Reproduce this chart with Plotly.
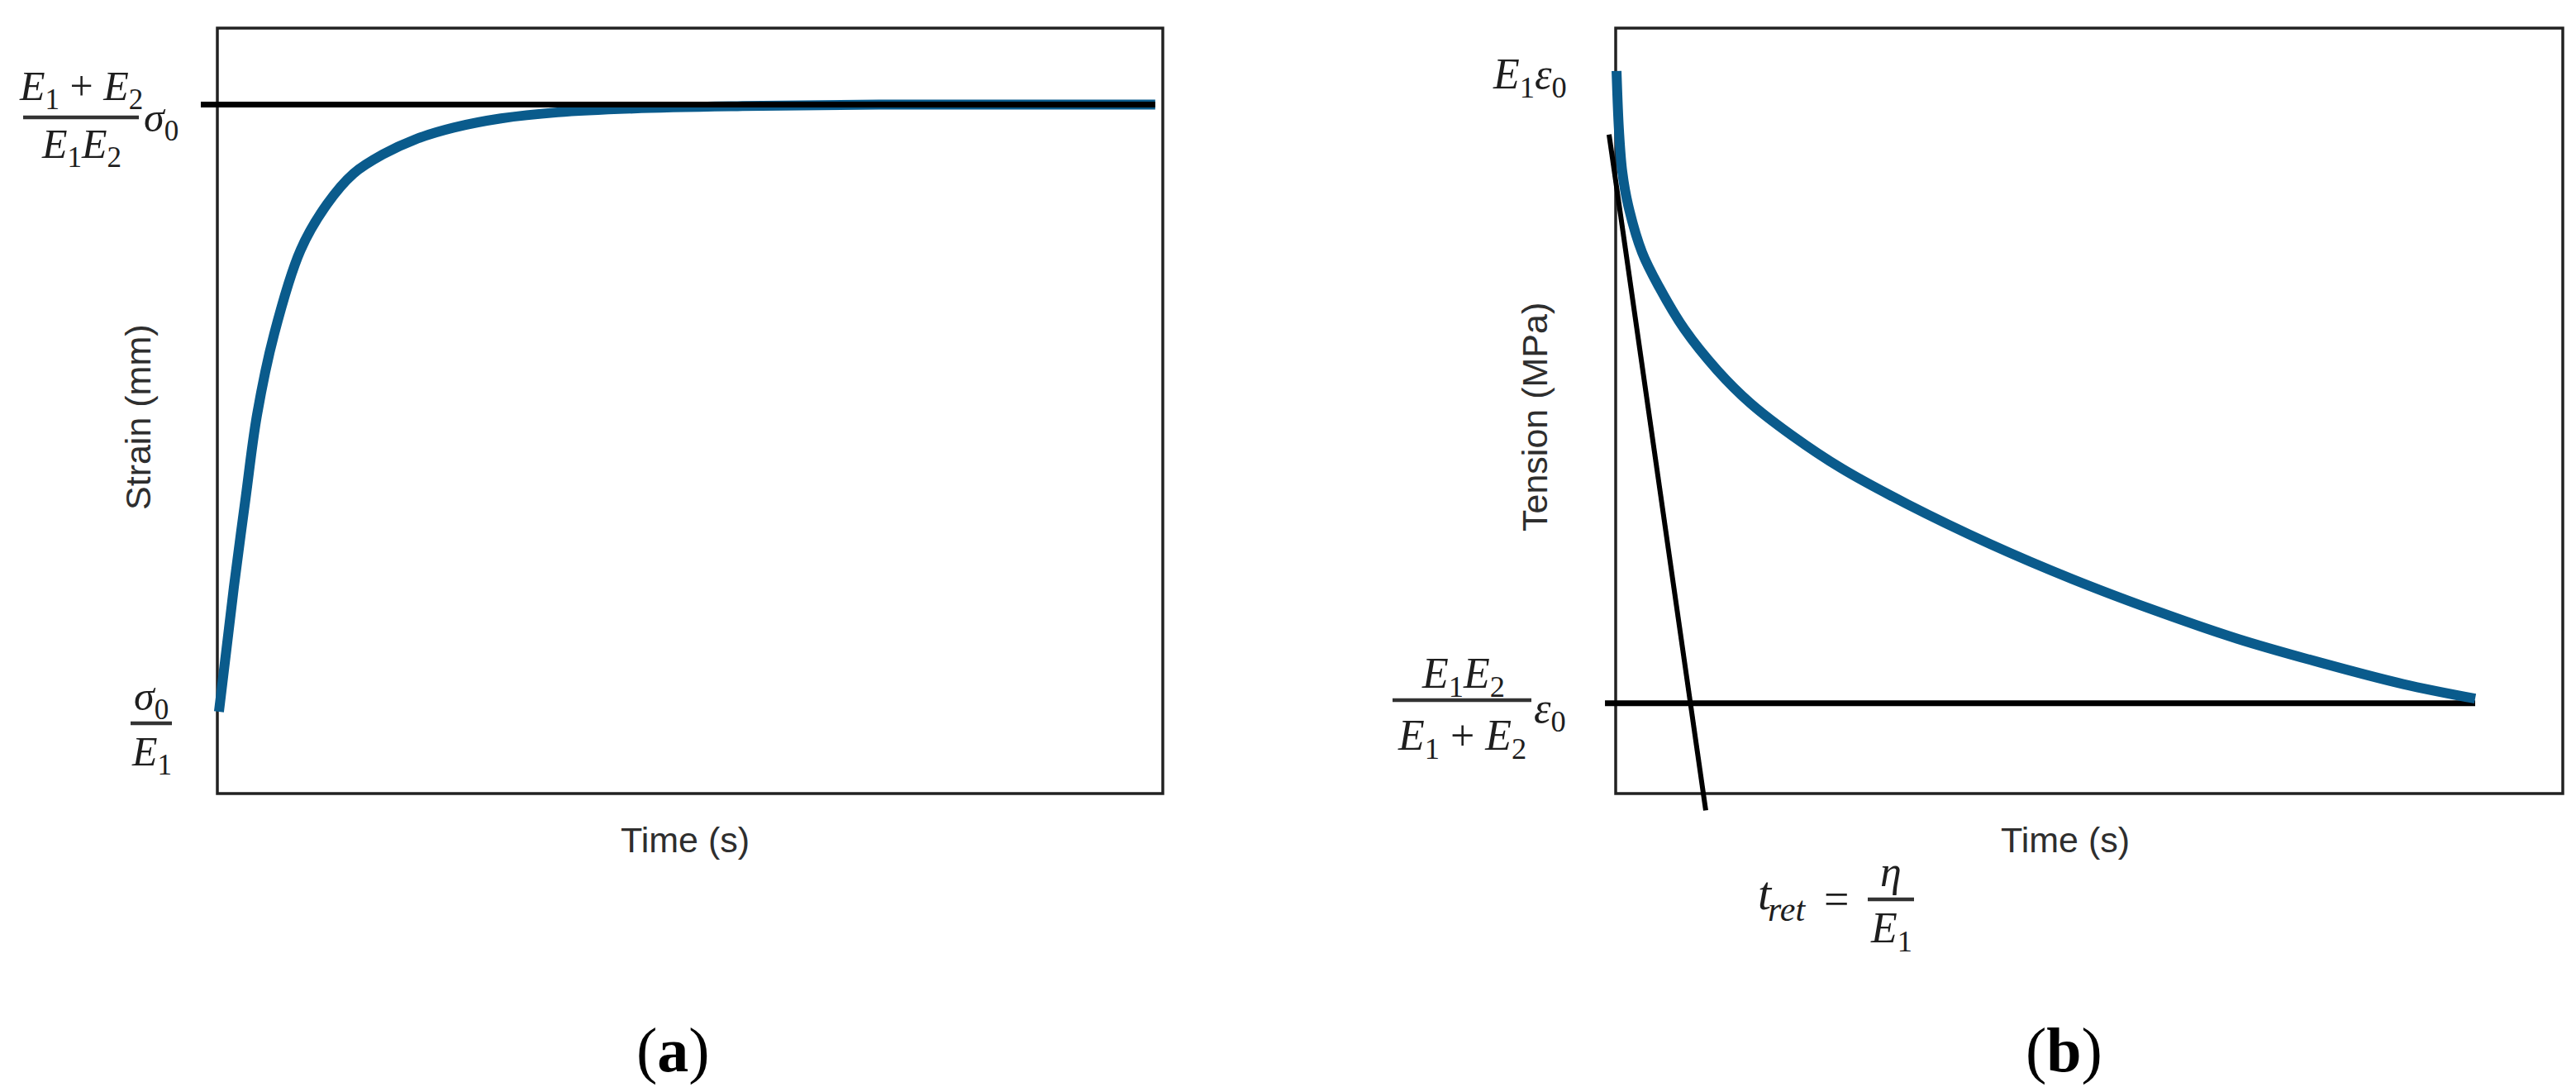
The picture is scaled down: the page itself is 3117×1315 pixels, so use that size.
import plotly.graph_objects as go

W, H = 3117, 1315

# (a) creep test: strain rising towards (E1+E2)/(E1E2)·σ0
creep_time = [0.17, 0.88, 1.75, 3.0, 4.2, 6.0, 8.8, 11.6, 14.4, 17.5, 21.0, 25.0,
              30.0, 36.0, 44.0, 55.0, 70.0, 99.2]
creep_strain = [0.107, 0.18, 0.27, 0.387, 0.495, 0.60, 0.71, 0.77, 0.81, 0.835, 0.855,
                0.870, 0.882, 0.890, 0.895, 0.898, 0.900, 0.900]
creep_limit_time = [-1.75, 99.2]
creep_limit = [0.90, 0.90]

# (b) relaxation test: tension decaying towards E1E2/(E1+E2)·ε0
relax_time = [0.09, 0.35, 0.70, 1.31, 2.79, 4.62, 7.24, 10.73, 14.22, 18.59, 23.82,
              30.80, 39.53, 48.25, 56.98, 65.71, 74.43, 83.16, 90.75]
relax_tension = [0.944, 0.866, 0.812, 0.769, 0.707, 0.661, 0.607, 0.553, 0.510, 0.468,
                 0.425, 0.378, 0.326, 0.280, 0.239, 0.202, 0.171, 0.143, 0.124]
relax_limit_time = [-1.13, 90.75]
relax_limit = [0.118, 0.118]
tangent_time = [-0.70, 9.51]
tangent_tension = [0.861, -0.022]

BLUE = "#0a5b8c"
INK = "#1e1e1e"
LABEL = "#2e2e2e"
MATH = "Liberation Serif"
SANS = "Liberation Sans"

# frame of each panel in pixels: left, right, top, bottom
BOX_A = (255, 1399, 26, 952)
BOX_B = (1947, 3093, 26, 952)
X_RANGE_A = [-5, 106]
X_RANGE_B = [-5, 101.5]
Y_RANGE = [-0.06, 1.02]


def domains(box, xr, yr):
    left, right, top, bottom = box
    kx = (right - left) / 100
    ky = bottom - top
    x0, x1 = left + xr[0] * kx, left + xr[1] * kx
    y_bot, y_top = bottom - yr[0] * ky, bottom - yr[1] * ky
    return [x0 / W, x1 / W], [1 - y_bot / H, 1 - y_top / H]


def px(x):
    return x / W


def py(y):
    return 1 - y / H


fig = go.Figure()
fig.add_trace(go.Scatter(x=creep_time, y=creep_strain, mode="lines", line_shape="spline",
                         line=dict(color=BLUE, width=12), xaxis="x", yaxis="y"))
fig.add_trace(go.Scatter(x=creep_limit_time, y=creep_limit, mode="lines",
                         line=dict(color="black", width=7), xaxis="x", yaxis="y"))
fig.add_trace(go.Scatter(x=relax_limit_time, y=relax_limit, mode="lines",
                         line=dict(color="black", width=7), xaxis="x2", yaxis="y2"))
fig.add_trace(go.Scatter(x=tangent_time, y=tangent_tension, mode="lines",
                         line=dict(color="black", width=6), xaxis="x2", yaxis="y2"))
fig.add_trace(go.Scatter(x=relax_time, y=relax_tension, mode="lines", line_shape="spline",
                         line=dict(color=BLUE, width=12), xaxis="x2", yaxis="y2"))

xd_a, yd_a = domains(BOX_A, X_RANGE_A, Y_RANGE)
xd_b, yd_b = domains(BOX_B, X_RANGE_B, Y_RANGE)
hidden = dict(visible=False, fixedrange=True)
fig.update_layout(
    xaxis=dict(domain=xd_a, range=X_RANGE_A, anchor="y", **hidden),
    yaxis=dict(domain=yd_a, range=Y_RANGE, anchor="x", **hidden),
    xaxis2=dict(domain=xd_b, range=X_RANGE_B, anchor="y2", **hidden),
    yaxis2=dict(domain=yd_b, range=Y_RANGE, anchor="x2", **hidden),
)

shapes = [
    dict(type="rect", xref="x", yref="y", x0=0, x1=100, y0=0, y1=1,
         line=dict(color="#222222", width=3.5), layer="below"),
    dict(type="rect", xref="x2", yref="y2", x0=0, x1=100, y0=0, y1=1,
         line=dict(color="#222222", width=3.5), layer="below"),
]


def frac_bar(x0, x1, y):
    shapes.append(dict(type="line", xref="paper", yref="paper", x0=px(x0), x1=px(x1),
                       y0=py(y), y1=py(y), line=dict(color="#333333", width=4.5)))


annotations = []


def note(x, y, text, size, family=MATH, color=INK, angle=0, anchor="center"):
    annotations.append(dict(x=px(x), y=py(y), xref="paper", yref="paper", text=text,
                            showarrow=False, xanchor=anchor, yanchor="middle",
                            textangle=angle, font=dict(size=size, family=family, color=color)))


E1 = "<i>E</i><sub>1</sub>"
E2 = "<i>E</i><sub>2</sub>"
MA = 50
MB = 52

# panel (a) labels
note(90, 100, f"{E1} + {E2}", MA)
frac_bar(20, 160, 134)
note(90, 170, f"{E1}{E2}", MA)
note(164, 138, "<i>σ</i><sub>0</sub>", MA, anchor="left")
note(175, 838, "<i>σ</i><sub>0</sub>", MA)
frac_bar(150, 200, 867)
note(175, 905, E1, MA)
note(159, 497, "Strain (mm)", 43, SANS, LABEL, -90)
note(821, 1008, "Time (s)", 43, SANS, LABEL)
note(806, 1262, "(<b>a</b>)", 76, MATH, "black")

# panel (b) labels
note(1843, 85, f"{E1}<i>ε</i><sub>0</sub>", MB)
note(1762, 810, f"{E1}{E2}", MB)
frac_bar(1677, 1845, 839)
note(1761, 885, f"{E1} + {E2}", MB)
note(1846, 852, "<i>ε</i><sub>0</sub>", MB, anchor="left")
note(1849, 497, "Tension (MPa)", 43, SANS, LABEL, -90)
note(2491, 1008, "Time (s)", 43, SANS, LABEL)
note(2128, 1072, "<i>t</i>", 58)
note(2154, 1092, "<i>ret</i>", 42)
note(2214, 1080, "=", 54)
note(2280, 1046, "<i>η</i>", MB)
frac_bar(2252, 2308, 1080)
note(2280, 1118, E1, MB)
note(2489, 1262, "(<b>b</b>)", 76, MATH, "black")

fig.update_layout(
    width=W, height=H,
    margin=dict(l=0, r=0, t=0, b=0),
    paper_bgcolor="white", plot_bgcolor="rgba(0,0,0,0)",
    showlegend=False,
    shapes=shapes, annotations=annotations,
)

fig.write_html("out.html")
